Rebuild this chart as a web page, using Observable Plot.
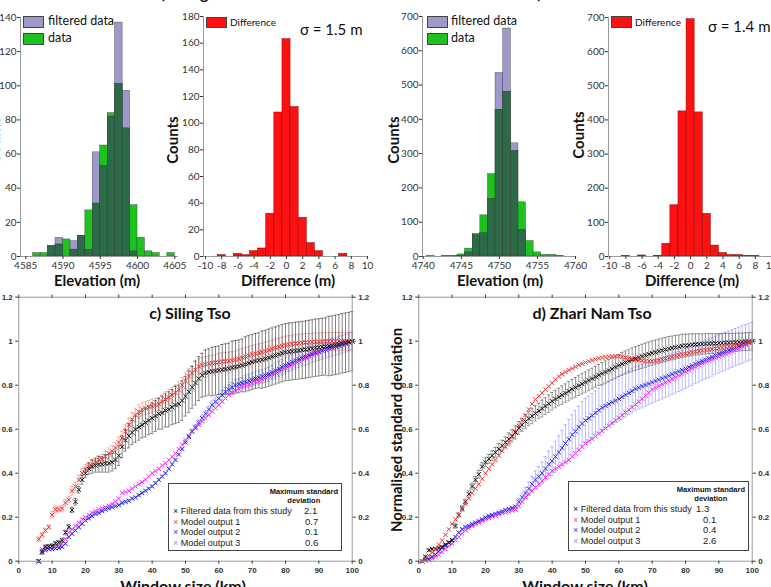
<!DOCTYPE html>
<html>
<head>
<meta charset="utf-8">
<script src="https://cdn.jsdelivr.net/npm/d3@7"></script>
<script src="https://cdn.jsdelivr.net/npm/@observablehq/plot@0.6"></script>
<style>
  body { margin: 0; background: #fff; }
  #fig { position: relative; width: 771px; height: 587px; overflow: hidden; font-family: Lato, "Open Sans", sans-serif; color: #111; }
  .panel { position: absolute; }
  .lbl { position: absolute; white-space: nowrap; transform: translate(-50%, -50%); font-weight: bold; line-height: 1; }
  .txt { position: absolute; white-space: nowrap; line-height: 1; }
  .sw { position: absolute; border: 1px solid #444; box-sizing: border-box; }
  .legbox { position: absolute; border: 1.5px solid #444; background: #fff; box-sizing: border-box; font-family: "Liberation Sans", Arial, sans-serif; }
</style>
</head>
<body>
<div id="fig"></div>
<script>
// ---------- Histograms: Siling Tso ----------
const silingElevBins = [4586,4587,4588,4589,4590,4591,4592,4593,4594,4595,4596,4597,4598,4599,4600,4601,4602,4603,4604];
const silingFiltered = [0,0,6,11,0,9,12,4,61,53,82,137,97,3,0,0,0,0,0];
const silingData     = [2,2,6,7,10,4,12,27,31,65,84,101,75,30,11,3,2,0,2];
const silingDiffBins = [-8,-7,-6,-5,-4,-3,-2,-1,0,1,2,3,4,5,6,7];
const silingDiff     = [1,0,2,1,4,6,32,108,163,112,29,10,4,0,0,2];

// ---------- Histograms: Zhari Nam Tso ----------
const zhariElevBins = [4741,4742,4743,4744,4745,4746,4747,4748,4749,4750,4751,4752,4753,4754,4755,4756,4757,4758];
const zhariFiltered = [0,0,0,0,1,12,62,68,168,535,665,330,78,0,0,0,0,0];
const zhariData     = [1,0,2,2,6,23,66,120,240,428,480,307,158,45,12,5,5,2];
const zhariDiffBins = [-8,-7,-6,-5,-4,-3,-2,-1,0,1,2,3,4,5,6,7,8];
const zhariDiff     = [1,0,3,0,2,37,150,425,695,422,125,32,10,4,4,1,1];

// ---------- Normalised standard deviation vs window size ----------
const kmTicks = [0,10,20,30,40,50,60,70,80,90,100];
const normTicks = [0,0.2,0.4,0.6,0.8,1,1.2];

// c) Siling Tso, window sizes 6 ... 100 km
const silingKmStart = 6;
const silingBlack = [0.00,0.04,0.065,0.067,0.07,0.08,0.085,0.094,0.13,0.155,
  0.233,0.27,0.325,0.37,0.40,0.42,0.43,0.435,0.44,0.44,
  0.445,0.445,0.45,0.46,0.48,0.52,0.55,0.57,0.585,0.60,
  0.61,0.62,0.63,0.64,0.65,0.66,0.67,0.675,0.685,0.69,
  0.70,0.71,0.715,0.73,0.75,0.77,0.79,0.81,0.83,0.845,
  0.855,0.86,0.862,0.865,0.868,0.87,0.873,0.876,0.88,0.883,
  0.886,0.89,0.895,0.90,0.905,0.91,0.913,0.916,0.92,0.925,
  0.93,0.935,0.94,0.945,0.95,0.952,0.954,0.956,0.958,0.96,
  0.962,0.965,0.967,0.97,0.972,0.974,0.976,0.978,0.98,0.983,
  0.986,0.99,0.993,0.996,1.0];
const silingBlackErr = [0.005,0.008,0.008,0.008,0.008,0.008,0.008,0.01,0.01,0.012,
  0.012,0.015,0.015,0.02,0.02,0.025,0.03,0.03,0.035,0.035,
  0.04,0.04,0.04,0.04,0.045,0.05,0.05,0.055,0.055,0.06,
  0.06,0.06,0.065,0.065,0.07,0.07,0.07,0.075,0.075,0.08,
  0.08,0.085,0.085,0.09,0.09,0.095,0.095,0.1,0.1,0.1,
  0.105,0.105,0.11,0.11,0.11,0.115,0.115,0.115,0.12,0.12,
  0.12,0.12,0.125,0.125,0.125,0.125,0.125,0.13,0.13,0.13,
  0.13,0.13,0.13,0.13,0.13,0.13,0.13,0.13,0.13,0.13,
  0.13,0.13,0.13,0.13,0.13,0.13,0.13,0.135,0.135,0.135,
  0.135,0.135,0.135,0.135,0.135];
const silingModel1 = [0.10,0.12,0.14,0.155,0.21,0.235,0.235,0.24,0.265,0.28,
  0.32,0.34,0.37,0.40,0.42,0.43,0.44,0.45,0.46,0.465,
  0.475,0.49,0.50,0.515,0.54,0.56,0.59,0.62,0.645,0.665,
  0.68,0.69,0.695,0.70,0.705,0.71,0.715,0.725,0.735,0.745,
  0.755,0.765,0.78,0.80,0.82,0.84,0.855,0.87,0.885,0.89,
  0.895,0.898,0.90,0.903,0.905,0.907,0.909,0.91,0.912,0.915,
  0.92,0.925,0.93,0.935,0.94,0.943,0.947,0.95,0.955,0.96,
  0.965,0.97,0.974,0.978,0.982,0.985,0.987,0.989,0.991,0.993,
  0.994,0.995,0.996,0.997,0.998,0.998,0.999,0.999,1.0,1.0,
  1.0,1.0,1.0,1.0,1.0];
const silingModel1Err = [0.01,0.01,0.01,0.01,0.015,0.015,0.015,0.015,0.015,0.015,
  0.02,0.02,0.02,0.02,0.02,0.02,0.02,0.02,0.02,0.02,
  0.025,0.025,0.025,0.025,0.025,0.03,0.03,0.03,0.03,0.03,
  0.03,0.03,0.03,0.03,0.03,0.03,0.03,0.03,0.035,0.035,
  0.035,0.035,0.035,0.035,0.035,0.035,0.035,0.035,0.035,0.035,
  0.035,0.035,0.035,0.035,0.04,0.04,0.04,0.04,0.04,0.04,
  0.04,0.04,0.04,0.04,0.04,0.04,0.04,0.04,0.04,0.04,
  0.04,0.04,0.04,0.04,0.04,0.04,0.04,0.04,0.04,0.04,
  0.04,0.04,0.04,0.04,0.04,0.04,0.04,0.04,0.04,0.04,
  0.04,0.04,0.04,0.04,0.04];
const silingModel2 = [0.0,0.045,0.05,0.055,0.055,0.058,0.06,0.065,0.08,0.11,
  0.125,0.14,0.155,0.17,0.185,0.195,0.205,0.215,0.22,0.228,
  0.235,0.24,0.245,0.25,0.255,0.265,0.27,0.275,0.285,0.29,
  0.30,0.31,0.32,0.33,0.34,0.355,0.37,0.385,0.40,0.42,
  0.44,0.46,0.485,0.51,0.54,0.565,0.59,0.61,0.63,0.65,
  0.67,0.69,0.71,0.725,0.74,0.755,0.77,0.78,0.79,0.80,
  0.805,0.81,0.815,0.82,0.825,0.83,0.835,0.84,0.845,0.85,
  0.858,0.866,0.874,0.882,0.89,0.897,0.904,0.911,0.918,0.925,
  0.93,0.936,0.942,0.948,0.953,0.958,0.963,0.968,0.972,0.976,
  0.98,0.985,0.99,0.995,1.0];
const silingModel2Err = [0.005,0.005,0.005,0.005,0.005,0.005,0.005,0.005,0.005,0.005,
  0.005,0.005,0.005,0.005,0.005,0.005,0.005,0.005,0.005,0.005,
  0.005,0.005,0.005,0.005,0.005,0.005,0.005,0.005,0.005,0.005,
  0.005,0.005,0.005,0.005,0.005,0.005,0.005,0.005,0.005,0.005,
  0.005,0.005,0.005,0.005,0.005,0.01,0.01,0.012,0.012,0.015,
  0.015,0.015,0.018,0.018,0.02,0.02,0.02,0.022,0.022,0.025,
  0.025,0.025,0.028,0.028,0.03,0.03,0.03,0.03,0.032,0.032,
  0.032,0.035,0.035,0.035,0.035,0.035,0.035,0.038,0.038,0.038,
  0.038,0.04,0.04,0.04,0.04,0.04,0.04,0.04,0.04,0.04,
  0.04,0.04,0.04,0.04,0.04];
const silingModel3 = [0.0,0.055,0.06,0.065,0.065,0.068,0.07,0.08,0.10,0.13,
  0.145,0.16,0.175,0.19,0.20,0.21,0.22,0.228,0.235,0.24,
  0.245,0.252,0.26,0.27,0.285,0.31,0.315,0.32,0.33,0.34,
  0.35,0.36,0.37,0.385,0.40,0.41,0.42,0.435,0.445,0.46,
  0.475,0.49,0.51,0.53,0.55,0.57,0.59,0.605,0.62,0.635,
  0.65,0.665,0.68,0.695,0.71,0.725,0.74,0.755,0.765,0.775,
  0.785,0.795,0.80,0.805,0.81,0.815,0.82,0.828,0.835,0.842,
  0.85,0.857,0.864,0.871,0.878,0.886,0.894,0.902,0.91,0.918,
  0.925,0.932,0.939,0.945,0.951,0.957,0.962,0.967,0.971,0.975,
  0.98,0.985,0.99,0.995,1.0];

// d) Zhari Nam Tso, window sizes 1 ... 100 km
const zhariKmStart = 1;
const zhariBlack = [0.0,0.02,0.05,0.055,0.055,0.06,0.065,0.075,0.085,0.095,
  0.16,0.21,0.24,0.27,0.305,0.34,0.37,0.395,0.43,0.45,
  0.465,0.48,0.495,0.51,0.525,0.54,0.555,0.57,0.585,0.605,
  0.62,0.635,0.648,0.66,0.672,0.683,0.694,0.705,0.716,0.727,
  0.737,0.746,0.755,0.764,0.773,0.782,0.79,0.798,0.806,0.814,
  0.822,0.83,0.838,0.846,0.853,0.86,0.867,0.874,0.882,0.89,
  0.897,0.903,0.909,0.915,0.921,0.926,0.931,0.936,0.941,0.946,
  0.95,0.954,0.958,0.962,0.966,0.969,0.972,0.975,0.978,0.98,
  0.982,0.984,0.985,0.986,0.987,0.988,0.989,0.99,0.99,0.991,
  0.992,0.993,0.993,0.994,0.995,0.996,0.997,0.998,0.999,1.0];
const zhariBlackErr = [0.005,0.005,0.005,0.005,0.005,0.005,0.005,0.005,0.005,0.005,
  0.01,0.01,0.012,0.012,0.015,0.015,0.015,0.018,0.018,0.02,
  0.02,0.022,0.022,0.025,0.025,0.025,0.028,0.028,0.03,0.03,
  0.03,0.032,0.032,0.035,0.035,0.035,0.038,0.038,0.04,0.04,
  0.04,0.04,0.042,0.042,0.044,0.044,0.045,0.045,0.046,0.046,
  0.047,0.047,0.048,0.048,0.05,0.05,0.05,0.05,0.05,0.05,
  0.052,0.052,0.052,0.054,0.054,0.054,0.055,0.055,0.055,0.055,
  0.055,0.055,0.055,0.055,0.055,0.054,0.054,0.053,0.053,0.052,
  0.05,0.05,0.048,0.048,0.046,0.046,0.045,0.045,0.044,0.044,
  0.043,0.043,0.042,0.042,0.041,0.041,0.04,0.04,0.04,0.04];
const zhariModel1 = [0.0,0.01,0.025,0.04,0.055,0.075,0.095,0.12,0.145,0.17,
  0.19,0.21,0.235,0.26,0.285,0.31,0.33,0.35,0.375,0.40,
  0.42,0.44,0.46,0.48,0.50,0.52,0.54,0.565,0.59,0.615,
  0.64,0.665,0.69,0.715,0.735,0.75,0.765,0.78,0.795,0.81,
  0.825,0.84,0.85,0.86,0.868,0.876,0.884,0.892,0.898,0.903,
  0.908,0.913,0.918,0.922,0.925,0.928,0.93,0.931,0.932,0.931,
  0.929,0.926,0.923,0.92,0.917,0.914,0.912,0.91,0.909,0.909,
  0.91,0.913,0.917,0.921,0.925,0.929,0.933,0.937,0.94,0.943,
  0.946,0.949,0.952,0.955,0.958,0.96,0.962,0.964,0.966,0.968,
  0.971,0.974,0.976,0.978,0.98,0.984,0.988,0.992,0.996,1.0];
const zhariModel2 = [0.0,0.005,0.01,0.02,0.03,0.045,0.06,0.07,0.085,0.095,
  0.11,0.13,0.145,0.155,0.16,0.168,0.175,0.182,0.19,0.198,
  0.205,0.21,0.215,0.22,0.226,0.232,0.237,0.242,0.248,0.27,
  0.29,0.31,0.33,0.35,0.37,0.385,0.40,0.42,0.44,0.455,
  0.475,0.495,0.515,0.535,0.555,0.575,0.59,0.61,0.625,0.64,
  0.65,0.662,0.674,0.686,0.698,0.706,0.714,0.722,0.73,0.738,
  0.747,0.756,0.765,0.774,0.783,0.789,0.795,0.801,0.807,0.813,
  0.819,0.825,0.831,0.837,0.843,0.85,0.856,0.862,0.868,0.875,
  0.882,0.889,0.896,0.903,0.91,0.916,0.922,0.928,0.935,0.942,
  0.948,0.954,0.96,0.966,0.972,0.978,0.984,0.99,0.995,1.0];
const zhariModel2Err = [0.005,0.005,0.005,0.005,0.005,0.005,0.005,0.005,0.005,0.005,
  0.005,0.005,0.005,0.005,0.005,0.005,0.005,0.005,0.005,0.005,
  0.005,0.005,0.005,0.005,0.005,0.005,0.005,0.005,0.005,0.015,
  0.02,0.025,0.03,0.035,0.04,0.045,0.05,0.055,0.06,0.065,
  0.07,0.075,0.08,0.085,0.09,0.09,0.095,0.095,0.1,0.1,
  0.1,0.1,0.1,0.1,0.1,0.1,0.1,0.1,0.1,0.1,
  0.1,0.1,0.1,0.1,0.1,0.098,0.098,0.096,0.096,0.095,
  0.095,0.094,0.094,0.093,0.093,0.092,0.092,0.091,0.091,0.09,
  0.09,0.09,0.089,0.089,0.088,0.088,0.088,0.087,0.087,0.087,
  0.086,0.086,0.086,0.085,0.085,0.085,0.085,0.085,0.085,0.085];
const zhariModel3 = [0.0,0.003,0.007,0.012,0.02,0.03,0.042,0.055,0.068,0.08,
  0.095,0.11,0.125,0.14,0.15,0.16,0.168,0.175,0.183,0.19,
  0.197,0.203,0.208,0.213,0.218,0.222,0.226,0.23,0.235,0.25,
  0.27,0.29,0.305,0.32,0.335,0.35,0.365,0.38,0.395,0.41,
  0.42,0.43,0.44,0.45,0.46,0.475,0.49,0.505,0.52,0.535,
  0.545,0.555,0.567,0.58,0.592,0.604,0.616,0.628,0.64,0.652,
  0.664,0.676,0.688,0.7,0.712,0.725,0.738,0.752,0.766,0.78,
  0.788,0.796,0.804,0.812,0.82,0.828,0.836,0.844,0.852,0.86,
  0.868,0.876,0.884,0.892,0.9,0.906,0.912,0.918,0.924,0.93,
  0.936,0.942,0.948,0.954,0.96,0.968,0.976,0.984,0.992,1.0];

const legendNames = ["Filtered data from this study", "Model output 1", "Model output 2", "Model output 3"];
const silingMaxStd = ["2.1", "0.7", "0.1", "0.6"];
const zhariMaxStd = ["1.3", "0.1", "0.4", "2.6"];

// ---------- helpers ----------
const fig = document.getElementById("fig");
function place(node, left, top) {
  const wrap = document.createElement("div");
  wrap.className = "panel";
  wrap.style.left = left + "px";
  wrap.style.top = top + "px";
  wrap.appendChild(node);
  fig.appendChild(wrap);
}
function label(text, x, y, size, rotate = 0, extra = {}) {
  const d = document.createElement("div");
  d.className = "lbl";
  d.textContent = text;
  d.style.left = x + "px";
  d.style.top = y + "px";
  d.style.fontSize = size + "px";
  d.style.transform = `translate(-50%,-50%) rotate(${rotate}deg)`;
  Object.assign(d.style, extra);
  fig.appendChild(d);
  return d;
}
function text(str, x, y, size, extra = {}) {
  const d = document.createElement("div");
  d.className = "txt";
  d.textContent = str;
  d.style.left = x + "px";
  d.style.top = y + "px";
  d.style.fontSize = size + "px";
  Object.assign(d.style, extra);
  fig.appendChild(d);
  return d;
}
function swatch(x, y, w, h, color) {
  const d = document.createElement("div");
  d.className = "sw";
  Object.assign(d.style, {left: x + "px", top: y + "px", width: w + "px", height: h + "px", background: color});
  fig.appendChild(d);
}

const PURPLE = "#9d99cb", GREEN = "#1ec21e", DARK = "#2d6a48", RED = "#ff1111";
const range = (a, b, s) => d3.range(a, b + s / 2, s);
const plain = d => String(d);

function histogram({width, height, margins, xDomain, yDomain, xTicks, yTicks, marks}) {
  return Plot.plot({
    width, height, ...margins,
    x: {domain: xDomain, label: null},
    y: {domain: yDomain, label: null},
    style: {background: "transparent", overflow: "visible", fontFamily: "Lato, sans-serif", fontSize: "10px", color: "#333"},
    marks: [
      ...marks,
      Plot.ruleY([yDomain[0]], {stroke: "#9a9a9a"}),
      Plot.ruleX([xDomain[0]], {stroke: "#9a9a9a"}),
      Plot.axisX({ticks: xTicks, tickSize: 3, tickPadding: 2, tickFormat: plain, label: null}),
      Plot.axisY({ticks: yTicks, tickSize: 3, tickPadding: 1, tickFormat: plain, label: null})
    ]
  });
}

function pairedBars(bins, filtered, data, width) {
  const rows = bins.map((b, i) => ({x1: b, x2: b + width, filtered: filtered[i], data: data[i]}));
  const common = {x1: "x1", x2: "x2", y1: () => 0, stroke: "#3a3a3a", strokeWidth: 0.4};
  return [
    Plot.rect(rows.filter(d => d.filtered > 0), {...common, y2: "filtered", fill: PURPLE}),
    Plot.rect(rows.filter(d => d.data > 0), {...common, y2: "data", fill: GREEN}),
    Plot.rect(rows.filter(d => Math.min(d.filtered, d.data) > 0), {...common, y2: d => Math.min(d.filtered, d.data), fill: DARK})
  ];
}
function diffBars(centres, counts) {
  const rows = centres.map((c, i) => ({x1: c - 0.5, x2: c + 0.5, n: counts[i]})).filter(d => d.n > 0);
  return [Plot.rect(rows, {x1: "x1", x2: "x2", y1: () => 0, y2: "n", fill: RED, stroke: "#8a0000", strokeWidth: 0.5})];
}

// a) Siling Tso: elevation histogram (bins start on whole metres)
place(histogram({
  width: 190, height: 290,
  margins: {marginLeft: 20, marginRight: 12, marginTop: 17, marginBottom: 34},
  xDomain: [4584.3, 4605.5], yDomain: [0, 140],
  xTicks: range(4585, 4605, 5), yTicks: range(0, 140, 20),
  marks: pairedBars(silingElevBins, silingFiltered, silingData, 1)
}), 0, 0);

// a) Siling Tso: difference histogram
place(histogram({
  width: 190, height: 290,
  margins: {marginLeft: 18, marginRight: 8, marginTop: 16, marginBottom: 34},
  xDomain: [-10.25, 10], yDomain: [0, 180],
  xTicks: range(-10, 10, 2), yTicks: range(0, 180, 20),
  marks: diffBars(silingDiffBins, silingDiff)
}), 185, 0);

// b) Zhari Nam Tso: elevation histogram (bins centred on whole metres)
place(histogram({
  width: 200, height: 290,
  margins: {marginLeft: 42, marginRight: 5, marginTop: 16, marginBottom: 34},
  xDomain: [4739.9, 4760], yDomain: [0, 700],
  xTicks: range(4740, 4760, 5), yTicks: range(0, 700, 100),
  marks: pairedBars(zhariElevBins.map(b => b - 0.5), zhariFiltered, zhariData, 1)
}), 380, 0);

// b) Zhari Nam Tso: difference histogram
place(histogram({
  width: 201, height: 290,
  margins: {marginLeft: 38, marginRight: 0, marginTop: 17, marginBottom: 34},
  xDomain: [-10.15, 10], yDomain: [0, 700],
  xTicks: range(-10, 10, 2), yTicks: range(0, 700, 100),
  marks: diffBars(zhariDiffBins, zhariDiff)
}), 570, 0);

// ---------- window-size panels ----------
function rowsOf(start, values, errs) {
  return values.map((v, i) => ({km: start + i, v, e: errs ? errs[i] : 0}));
}
function errorBars(rows, color, width = 0.6) {
  return [
    Plot.ruleX(rows, {x: "km", y1: d => d.v - d.e, y2: d => d.v + d.e, stroke: color, strokeWidth: width}),
    Plot.ruleY(rows, {y: d => d.v + d.e, x1: d => d.km - 0.5, x2: d => d.km + 0.5, stroke: color, strokeWidth: width}),
    Plot.ruleY(rows, {y: d => d.v - d.e, x1: d => d.km - 0.5, x2: d => d.km + 0.5, stroke: color, strokeWidth: width})
  ];
}
function crosses(rows, color) {
  return Plot.dot(rows, {x: "km", y: "v", symbol: "times", r: 2.1, stroke: color, strokeWidth: 1});
}
function windowPanel({width, height, margins, marks}) {
  return Plot.plot({
    width, height, ...margins,
    x: {domain: [0, 100], label: null},
    y: {domain: [0, 1.2], label: null},
    style: {background: "transparent", overflow: "visible", fontFamily: "'Liberation Sans', Arial, sans-serif", fontSize: "8px", fontWeight: "bold", color: "#333"},
    marks: [
      ...marks,
      Plot.frame({stroke: "#9a9a9a"}),
      Plot.axisY({anchor: "left", ticks: normTicks, tickSize: 3, tickPadding: 3, tickFormat: plain, label: null}),
      Plot.axisY({anchor: "right", ticks: normTicks, tickSize: 3, tickPadding: 3, tickFormat: plain, label: null}),
      Plot.axisX({anchor: "bottom", ticks: kmTicks, tickSize: 3, tickPadding: 3, tickFormat: plain, label: null}),
      Plot.axisX({anchor: "top", ticks: kmTicks, tickSize: 3, tickFormat: () => "", label: null})
    ]
  });
}

// c) Siling Tso
{
  const black = rowsOf(silingKmStart, silingBlack, silingBlackErr);
  const m1 = rowsOf(silingKmStart, silingModel1, silingModel1Err);
  const m2 = rowsOf(silingKmStart, silingModel2, silingModel2Err);
  const m3 = rowsOf(silingKmStart, silingModel3);
  place(windowPanel({
    width: 390, height: 302,
    margins: {marginLeft: 18.3, marginRight: 38.3, marginTop: 11.7, marginBottom: 26.3},
    marks: [
      ...errorBars(m1, "#f07070", 0.5),
      ...errorBars(m2, "#7f7fff", 0.5),
      ...errorBars(black, "#333", 0.6),
      crosses(m3, "#ff22ff"),
      crosses(m2, "#2a2ae6"),
      crosses(m1, "#f03030"),
      crosses(black, "#111")
    ]
  }), 0, 285);
}

// d) Zhari Nam Tso
{
  const black = rowsOf(zhariKmStart, zhariBlack, zhariBlackErr);
  const m1 = rowsOf(zhariKmStart, zhariModel1);
  const m2 = rowsOf(zhariKmStart, zhariModel2, zhariModel2Err);
  const m3 = rowsOf(zhariKmStart, zhariModel3);
  place(windowPanel({
    width: 386, height: 302,
    margins: {marginLeft: 33.3, marginRight: 19.3, marginTop: 11.7, marginBottom: 26.3},
    marks: [
      ...errorBars(m2, "#8f8fff", 0.6),
      ...errorBars(black, "#555", 0.6),
      crosses(m3, "#ff22ff"),
      crosses(m2, "#2a2ae6"),
      crosses(black, "#111"),
      crosses(m1, "#f03030")
    ]
  }), 385, 285);
}

// ---------- titles, axis labels and legends ----------
label("a) Siling Tso", 195, -7, 16);
label("b) Zhari Nam Tso", 588, -7, 16);

label("Counts", -6, 140, 15, -90);
label("Counts", 172, 140, 15, -90);
label("Counts", 393, 140, 15, -90);
label("Counts", 578, 135, 15, -90);
label("Elevation (m)", 97, 280, 15);
label("Difference (m)", 288, 280, 15);
label("Elevation (m)", 500, 280, 15);
label("Difference (m)", 692, 280, 15);

// histogram keys
swatch(23, 16, 21, 12, PURPLE); text("filtered data", 48, 15, 12.5);
swatch(23, 33, 21, 12, GREEN);  text("data", 48, 32, 12.5);
swatch(427, 16, 21, 12, PURPLE); text("filtered data", 451, 15, 12.5);
swatch(427, 33, 21, 12, GREEN);  text("data", 451, 32, 12.5);
swatch(206, 17, 21, 11, RED); text("Difference", 230, 17, 10);
swatch(611, 16, 21, 12, RED); text("Difference", 635, 17, 10);
text("σ = 1.5 m", 300, 22, 15);
text("σ = 1.4 m", 708, 19, 15);

label("c) Siling Tso", 190, 313, 16);
label("d) Zhari Nam Tso", 592, 313, 16);
label("Window size (km)", 183, 586, 16);
label("Window size (km)", 585, 586, 16);
label("Normalised standard deviation", 396, 430, 15, -90);

function windowLegend(left, top, w, h, values, valueLefts) {
  const box = document.createElement("div");
  box.className = "legbox";
  Object.assign(box.style, {left: left + "px", top: top + "px", width: w + "px", height: h + "px"});
  fig.appendChild(box);
  const head = document.createElement("div");
  head.innerHTML = "Maximum standard<br>deviation";
  Object.assign(head.style, {position: "absolute", right: "3px", top: "3px", fontSize: "7.5px", fontWeight: "bold", textAlign: "center", lineHeight: "9px"});
  box.appendChild(head);
  const colors = ["#222", "#e05555", "#3c3cd8", "#d27fd0"];
  legendNames.forEach((name, i) => {
    const y = 22 + i * 10.6;
    const row = document.createElement("div");
    Object.assign(row.style, {position: "absolute", left: "4px", top: y + "px", fontSize: "9px", lineHeight: "10px", whiteSpace: "nowrap", color: "#222"});
    row.innerHTML = `<span style="color:${colors[i]};font-size:9px">×</span> ${name}`;
    box.appendChild(row);
    const val = document.createElement("div");
    Object.assign(val.style, {position: "absolute", left: valueLefts[i] + "px", top: y + "px", fontSize: "9.5px", lineHeight: "10px", color: "#222"});
    val.textContent = values[i];
    box.appendChild(val);
  });
}
windowLegend(168, 483, 174, 68, silingMaxStd, [135, 136, 136, 136]);
windowLegend(568, 481, 181, 70, zhariMaxStd, [127, 134, 134, 134]);
</script>
</body>
</html>
